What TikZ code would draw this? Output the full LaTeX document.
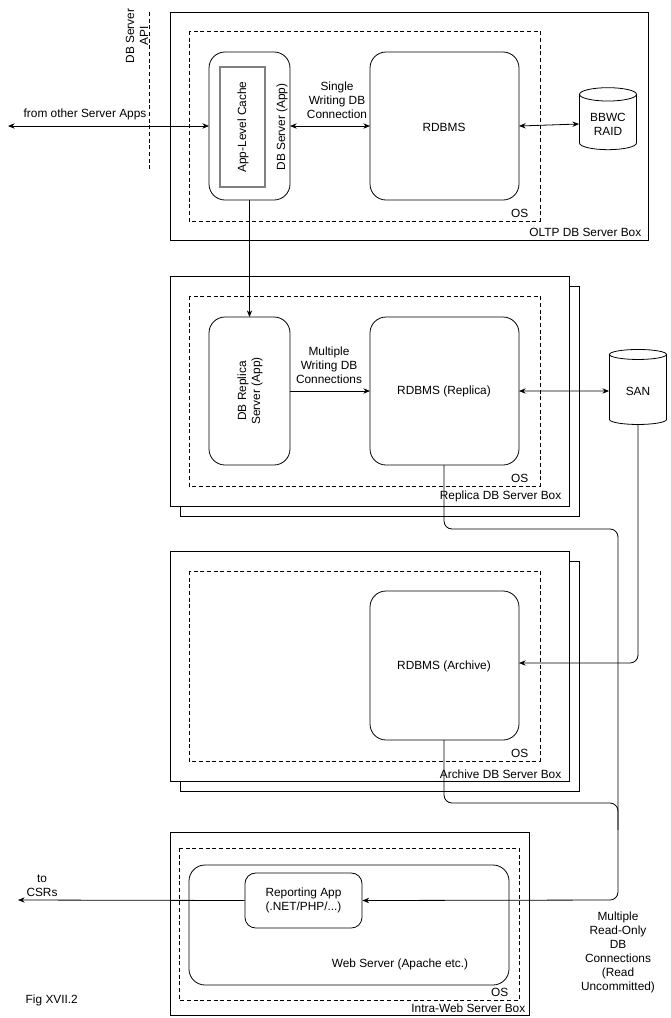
\documentclass[tikz,border=0pt]{standalone}
\usepackage{fontspec}
\setmainfont{Liberation Sans}
\usetikzlibrary{arrows.meta,shapes.geometric}
\begin{document}
\begin{tikzpicture}[x=0.75pt,y=-0.75pt,line width=0.6pt,
  box/.style={draw,fill=white},
  os/.style={draw,dash pattern=on 3pt off 2pt},
  rr/.style={draw,rounded corners=12pt,fill=white},
  txt/.style={font=\fontsize{8.9}{10.5}\selectfont,align=center,inner sep=1pt},
  arr/.style={-{Stealth[length=5pt,width=4pt]}},
  barr/.style={{Stealth[length=5pt,width=4pt]}-{Stealth[length=5pt,width=4pt]}},
  cyl/.style={draw,cylinder,shape border rotate=90,aspect=0.3,minimum width=57*0.75pt,fill=white,font=\fontsize{8.9}{10.5}\selectfont,align=center}]
\useasboundingbox (0,0) rectangle (671,1018);
% Box 1
\draw[box] (170,12) rectangle (648,240);
\draw[os] (189,31) rectangle (540,221);
\node[txt,anchor=south east] (os1) at (530,219) {OS};
\node[txt,anchor=south east] (b1) at (643,238) {OLTP DB Server Box};
\draw[rr] (209,52) rectangle (290,200);
\draw[draw=gray,line width=1pt] (220,67) rectangle (265,187);
\node[txt,rotate=90] (alc) at (243,127) {App-Level Cache};
\node[txt,rotate=90] (dbs) at (282,127) {DB Server (App)};
\draw[rr] (370,52) rectangle (519,200);
\node[txt] (r1) at (444,127) {RDBMS};
\node[cyl,minimum height=62*0.75pt] (bbwc) at (608,124) {BBWC\\RAID};
\draw[os] (149,12) -- (149,170);
\node[txt,rotate=90,anchor=center] (api) at (137,36) {DB Server\\API};
\coordinate (left1) at (8,126);
\draw[barr] (left1) -- (209,126);
\node[txt] (from) at (85,114) {from other Server Apps};
\draw[barr] (290,126) -- (370,126);
\node[txt] (swc) at (337,100) {Single\\Writing DB\\Connection};
\draw[barr] (519,126) -- (bbwc.west);
% Box 2
\draw[box] (180,286) rectangle (579,516);
\draw[box] (170,276) rectangle (569,506);
\draw[os] (189,296) rectangle (540,486);
\node[txt,anchor=south east] (os2) at (530,484) {OS};
\node[txt,anchor=south east] (b2) at (563,504) {Replica DB Server Box};
\draw[rr] (209,317) rectangle (290,465);
\node[txt,rotate=90] (rep) at (250,391) {DB Replica\\Server (App)};
\draw[rr] (370,317) rectangle (519,465);
\node[txt] (r2) at (444,391) {RDBMS (Replica)};
\node[cyl,minimum height=75*0.75pt] (san) at (638,391) {SAN};
\draw[arr] (290,391) -- (370,391);
\node[txt] (mwc) at (329,365) {Multiple\\Writing DB\\Connections};
\draw[barr] (519,391) -- (san.west);
\draw[arr] (249.5,200) -- (249.5,317);
% Box 3
\draw[box] (180,561) rectangle (579,791);
\draw[box] (170,551) rectangle (569,781);
\draw[os] (189,571) rectangle (540,761);
\node[txt,anchor=south east] (os3) at (530,759) {OS};
\node[txt,anchor=south east] (b3) at (563,780) {Archive DB Server Box};
\draw[rr] (370,591) rectangle (519,740);
\node[txt] (r3) at (444,666) {RDBMS (Archive)};
\draw[arr,rounded corners=6pt] (san.south) -- (638,663) -- (519,663);
% Box 4
\draw[box] (170,832) rectangle (529,1015);
\draw[os] (179,848) rectangle (519,1000);
\draw[rr] (189,865) rectangle (509,985);
\node[txt,anchor=south east] (os4) at (510,998) {OS};
\node[txt,anchor=south east] (b4) at (527,1014) {Intra-Web Server Box};
\node[txt] (ws) at (400,964) {Web Server (Apache etc.)};
\node[draw,rounded corners=8pt,minimum width=117*0.75pt,minimum height=55*0.75pt,txt] (rep4) at (303.5,900.5) {Reporting App\\(.NET/PHP/...)};
\coordinate (csr) at (18,900);
\draw[arr] (rep4.west) -- (csr);
\node[txt] (tocsr) at (42,886) {to\\CSRs};
\node[txt,anchor=west] (fig) at (24,1000) {Fig XVII.2};
\draw[arr,rounded corners=6pt] (444,465) -- (444,529) -- (618,529) -- (618,900) -- (rep4.east);
\draw[rounded corners=6pt] (444,740) -- (444,803) -- (618,803) -- (618,830);
\node[txt] (mro) at (618,952) {Multiple\\Read-Only\\DB\\Connections\\(Read\\Uncommitted)};
\end{tikzpicture}
\end{document}
